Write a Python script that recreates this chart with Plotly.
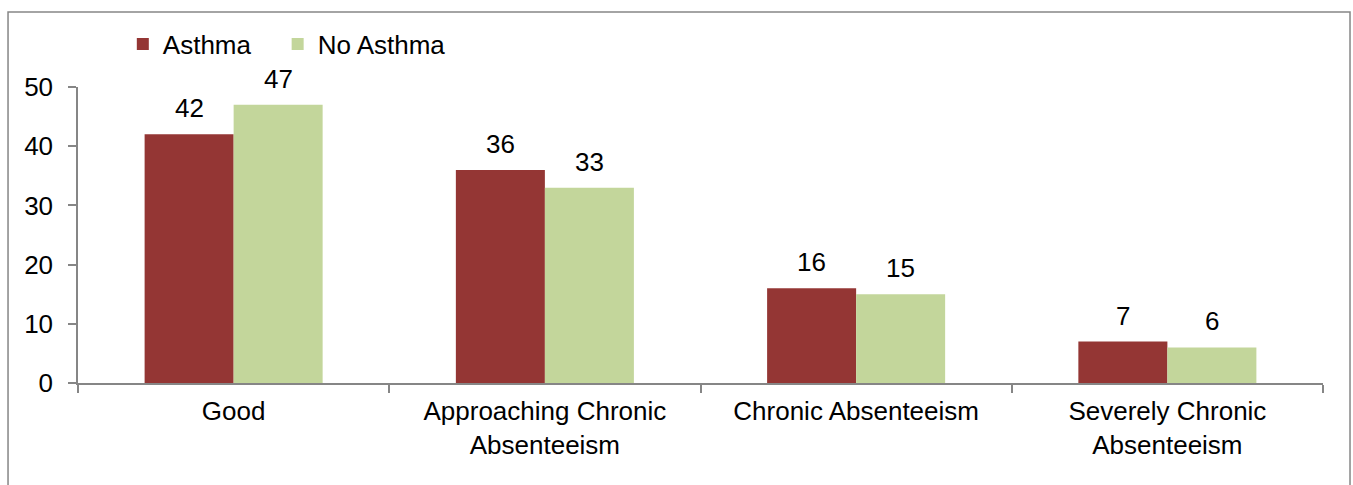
import plotly.graph_objects as go

categories = ["Good", "Approaching Chronic<br>Absenteeism", "Chronic Absenteeism",
              "Severely Chronic<br>Absenteeism"]
asthma = [42, 36, 16, 7]
no_asthma = [47, 33, 15, 6]
y_ticks = [0, 10, 20, 30, 40, 50]

FONT = "Liberation Sans, Arial, sans-serif"
FSIZE = 26
AXIS_GREY = "#868686"
BAR_PX = 44.5  # offset of each bar centre from its category centre, in pixels
NBSP = "\u00a0"

fig = go.Figure()
fig.add_trace(go.Bar(
    name="Asthma" + NBSP * 3, x=categories, y=asthma,
    marker=dict(color="#943634", line=dict(width=0)),
))
fig.add_trace(go.Bar(
    name="No Asthma", x=categories, y=no_asthma,
    marker=dict(color="#C3D69B", line=dict(width=0)),
))

# value labels above each bar
for vals, shift in ((asthma, -BAR_PX), (no_asthma, BAR_PX)):
    for cat, v in zip(categories, vals):
        fig.add_annotation(
            x=cat, y=v, text=str(v), showarrow=False,
            xshift=shift, yshift=9, yanchor="bottom",
            font=dict(size=FSIZE, color="black", family=FONT),
        )

fig.update_layout(
    width=1353, height=485,
    margin=dict(l=78, r=30, t=87, b=102),
    paper_bgcolor="white", plot_bgcolor="white",
    barmode="group", bargap=0.428, bargroupgap=0,
    font=dict(family=FONT, size=FSIZE, color="black"),
    legend=dict(
        orientation="h", x=0.036, y=1.145, xanchor="left", yanchor="middle",
        font=dict(size=FSIZE, color="black", family=FONT),
        tracegroupgap=0, bgcolor="rgba(0,0,0,0)",
    ),
    showlegend=True,
)

fig.update_xaxes(
    type="category", tickson="boundaries", ticks="outside", ticklen=8,
    tickcolor=AXIS_GREY, tickwidth=1.5,
    showline=True, linecolor=AXIS_GREY, linewidth=1.5,
    showgrid=False, zeroline=False, ticklabelstandoff=4,
    tickfont=dict(size=FSIZE, color="black", family=FONT),
)
fig.update_yaxes(
    range=[0, 50], tickvals=y_ticks, ticks="outside", ticklen=8,
    tickcolor=AXIS_GREY, tickwidth=1.5,
    showline=True, linecolor=AXIS_GREY, linewidth=1.5,
    showgrid=False, zeroline=False, ticklabelstandoff=10,
    tickfont=dict(size=FSIZE, color="black", family=FONT),
)

# chart-area frame
fig.add_shape(
    type="rect", xref="paper", yref="paper",
    x0=-0.0562, x1=1.0217, y0=-0.6, y1=1.2534,
    line=dict(color=AXIS_GREY, width=1.5), fillcolor="rgba(0,0,0,0)", layer="below",
)

fig.write_html("out.html")
